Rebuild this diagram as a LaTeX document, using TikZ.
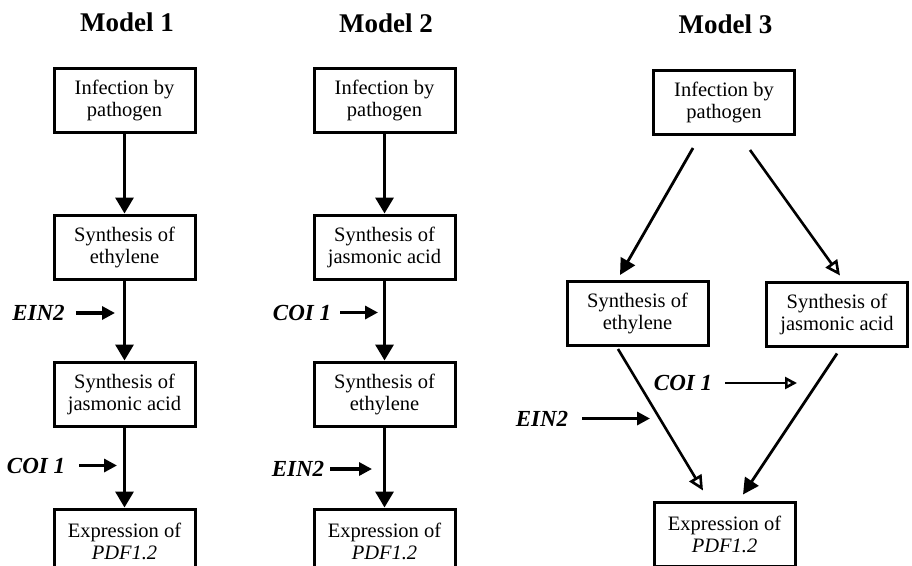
\documentclass[tikz,border=0pt]{standalone}
\usepackage{fontspec}
\setmainfont{Liberation Serif}
\usetikzlibrary{arrows.meta,positioning,calc}

\begin{document}
\begin{tikzpicture}[
    x=1pt, y=1pt,
    font=\fontsize{20.5}{22}\selectfont,
    node distance=80pt,
    box/.style={draw, line width=3pt, align=center, minimum width=141pt, minimum height=64pt, inner sep=2pt},
    ttl/.style={font=\fontsize{27}{30}\selectfont\bfseries, inner sep=0pt},
    gene/.style={font=\fontsize{23}{25}\selectfont\bfseries\itshape, inner sep=0pt},
    arr/.style={-{Triangle[length=16pt,width=18pt]}, line width=3.4pt},
    darr/.style={-{Triangle[length=16pt,width=16pt]}, line width=2.8pt},
    odarr/.style={-{Triangle[open,length=15pt,width=14pt]}, line width=2.6pt},
    sarr/.style={-{Triangle[length=13pt,width=13pt]}, line width=3.2pt},
    osarr/.style={-{Triangle[open,length=12pt,width=12pt]}, line width=2.6pt}
]
\useasboundingbox (0,0) rectangle (912,-565);

% Model 1
\node[ttl] (t1) at (127,-22) {Model 1};
\node[box] (inf1) at (124.5,-100) {Infection by\\pathogen};
\node[box, below=of inf1] (eth1) {Synthesis of\\ethylene};
\node[box, below=of eth1] (jas1) {Synthesis of\\jasmonic acid};
\node[box, below=of jas1] (exp1) {Expression of\\\textit{PDF1.2}};

\draw[arr] (inf1) -- (eth1);
\draw[arr] (eth1) -- (jas1);
\draw[arr] (jas1) -- (exp1);

\node[gene] (ein1) at (38.5,-313) {EIN2};
\coordinate (ein1tip) at (115,-313);
\draw[sarr, shorten <=11pt] (ein1) -- (ein1tip);
\node[gene] (coi1) at (36,-465.5) {COI 1};
\coordinate (coi1tip) at (117,-465.5);
\draw[sarr, shorten <=14pt] (coi1) -- (coi1tip);

% Model 2
\node[ttl] (t2) at (386,-23.5) {Model 2};
\node[box] (inf2) at (384.5,-100) {Infection by\\pathogen};
\node[box, below=of inf2] (jas2) {Synthesis of\\jasmonic acid};
\node[box, below=of jas2] (eth2) {Synthesis of\\ethylene};
\node[box, below=of eth2] (exp2) {Expression of\\\textit{PDF1.2}};

\draw[arr] (inf2) -- (jas2);
\draw[arr] (jas2) -- (eth2);
\draw[arr] (eth2) -- (exp2);

\node[gene] (coi2) at (302,-312.5) {COI 1};
\coordinate (coi2tip) at (378,-312.5);
\draw[sarr, shorten <=9pt] (coi2) -- (coi2tip);
\node[gene] (ein2) at (298,-469) {EIN2};
\coordinate (ein2tip) at (372,-469);
\draw[sarr, shorten <=6pt] (ein2) -- (ein2tip);

% Model 3
\node[ttl] (t3) at (725.5,-24) {Model 3};
\node[box] (inf3) at (724,-102.5) {Infection by\\pathogen};
\node[box] (eth3) at (637.5,-313.5) {Synthesis of\\ethylene};
\node[box] (jas3) at (837,-314) {Synthesis of\\jasmonic acid};
\node[box] (exp3) at (724.5,-534) {Expression of\\\textit{PDF1.2}};

\draw[darr] ($(inf3.south)+(-31,-12)$) -- ($(eth3.north)+(-17.5,5)$);
\draw[odarr] ($(inf3.south)+(26,-14)$) -- ($(jas3.north)+(3,5)$);
\draw[odarr] ($(eth3.south)+(-19.5,-2)$) -- ($(exp3.north)+(-21.5,10)$);
\draw[darr] ($(jas3.south)+(0,-6)$) -- ($(exp3.north)+(18.5,6)$);

\node[gene] (ein3) at (542,-418.5) {EIN2};
\coordinate (ein3tip) at (650,-418.5);
\draw[sarr, shorten <=14pt] (ein3) -- (ein3tip);
\node[gene] (coi3) at (683,-383) {COI 1};
\coordinate (coi3tip) at (797,-383);
\draw[osarr, shorten <=13pt] (coi3) -- (coi3tip);
\end{tikzpicture}
\end{document}
